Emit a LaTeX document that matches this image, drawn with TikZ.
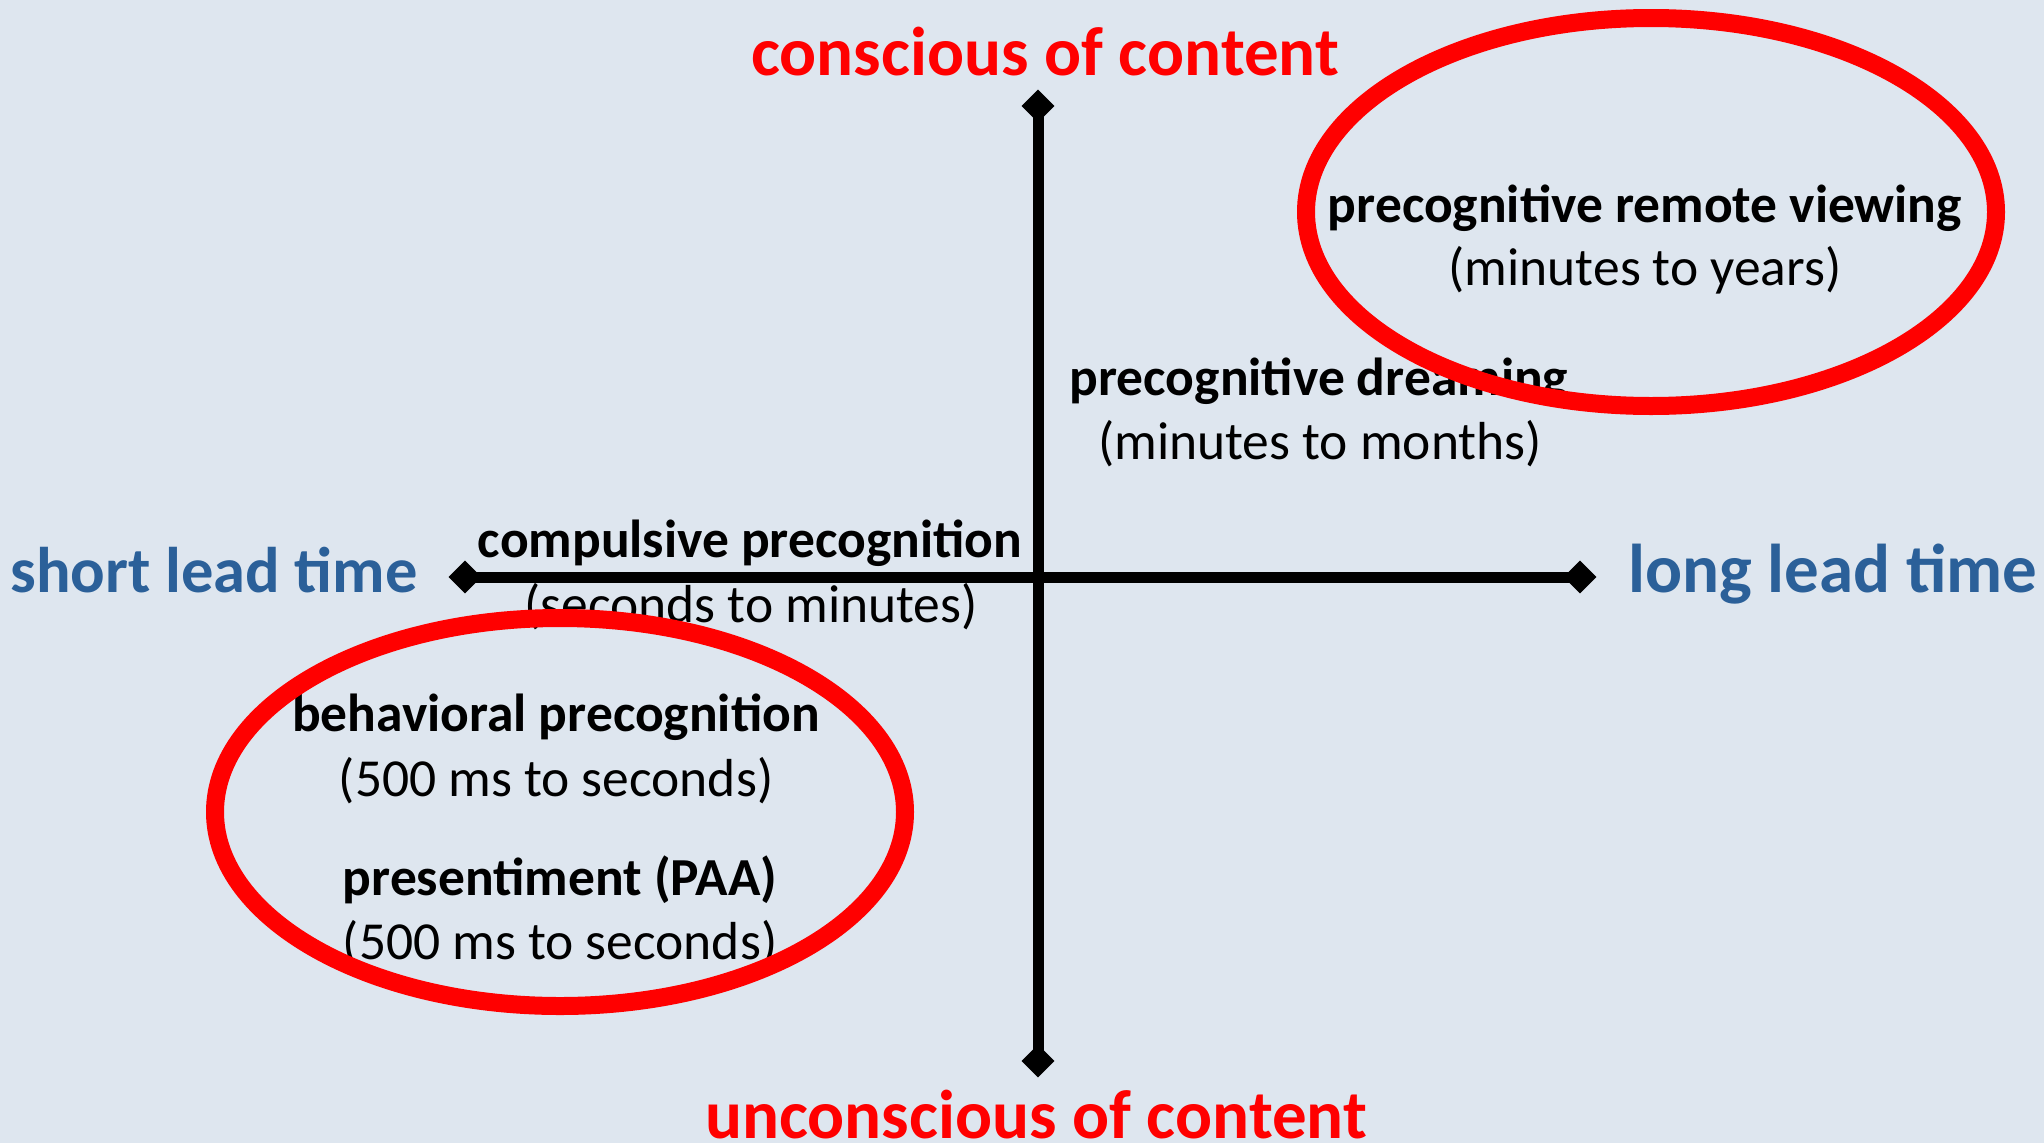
\documentclass[tikz,border=0pt]{standalone}
\usepackage{fontspec}
\setmainfont{Carlito}
\usetikzlibrary{shapes.geometric}
\definecolor{bgc}{HTML}{DEE6EF}
\definecolor{axblue}{HTML}{2B6099}
\definecolor{axred}{HTML}{FF0000}
\definecolor{shadowc}{HTML}{8C8C8C}
\tikzset{
  axlabel/.style={font=\fontsize{69}{80}\selectfont\bfseries, inner sep=0pt},
  item/.style={font=\fontsize{53.5}{62}\selectfont\bfseries, inner sep=0pt},
  sub/.style={font=\fontsize{53.5}{62}\selectfont, inner sep=0pt},
  tipbox/.style={diamond, fill=black, minimum size=33pt, inner sep=0pt},
  tipshadow/.style={diamond, fill=shadowc, minimum size=33pt, inner sep=0pt},
  axisline/.style={line width=11pt, black},
  axisshadow/.style={line width=11pt, shadowc},
  ring/.style={line width=18pt, axred}
}
\begin{document}
\begin{tikzpicture}[x=1pt,y=-1pt]
\fill[bgc] (0,0) rectangle (2044,1143);
\useasboundingbox (0,0) rectangle (2044,1143);
% coordinates
\coordinate (T) at (1038,106);
\coordinate (B) at (1038,1061);
\coordinate (L) at (465,577);
\coordinate (R) at (1580,577);
% shadows
\begin{scope}[shift={(3,3)}]
\draw[axisshadow] (T) -- (B);
\draw[axisshadow] (L) -- (R);
\node[tipshadow] at (T) {};
\node[tipshadow] at (B) {};
\node[tipshadow] at (L) {};
\node[tipshadow] at (R) {};
\end{scope}
% axes
\draw[axisline] (T) -- (B);
\draw[axisline] (L) -- (R);
\node[tipbox] (tT) at (T) {};
\node[tipbox] (tB) at (B) {};
\node[tipbox] (tL) at (L) {};
\node[tipbox] (tR) at (R) {};
% axis labels
\node[axlabel, text=axred] (con) at (1045,52) {conscious of content};
\node[axlabel, text=axred] (uncon) at (1036,1115) {unconscious of content};
\node[axlabel, text=axblue, font=\fontsize{64.5}{76}\selectfont\bfseries] (short) at (214,570) {short lead time};
\node[axlabel, text=axblue] (long) at (1833,574) {long lead time};
% items
\node[item] (rv) at (1645,208) {precognitive remote viewing};
\node[sub] (rvt) at (1645,270) {(minutes to years)};
\node[item] (pd) at (1319,381) {precognitive dreaming};
\node[sub] (pdt) at (1320,444) {(minutes to months)};
\node[item] (cp) at (750,543) {compulsive precognition};
\node[sub] (cpt) at (751,607) {(seconds to minutes)};
\node[item] (bp) at (556,717) {behavioral precognition};
\node[sub] (bpt) at (556,781) {(500 ms to seconds)};
\node[item] (pr) at (560,880) {presentiment (PAA)};
\node[sub] (prt) at (560,944) {(500 ms to seconds)};
% rings
\draw[ring] (1651,212) ellipse [x radius=345, y radius=194];
\draw[ring] (560,812) ellipse [x radius=345, y radius=194];
\end{tikzpicture}
\end{document}
